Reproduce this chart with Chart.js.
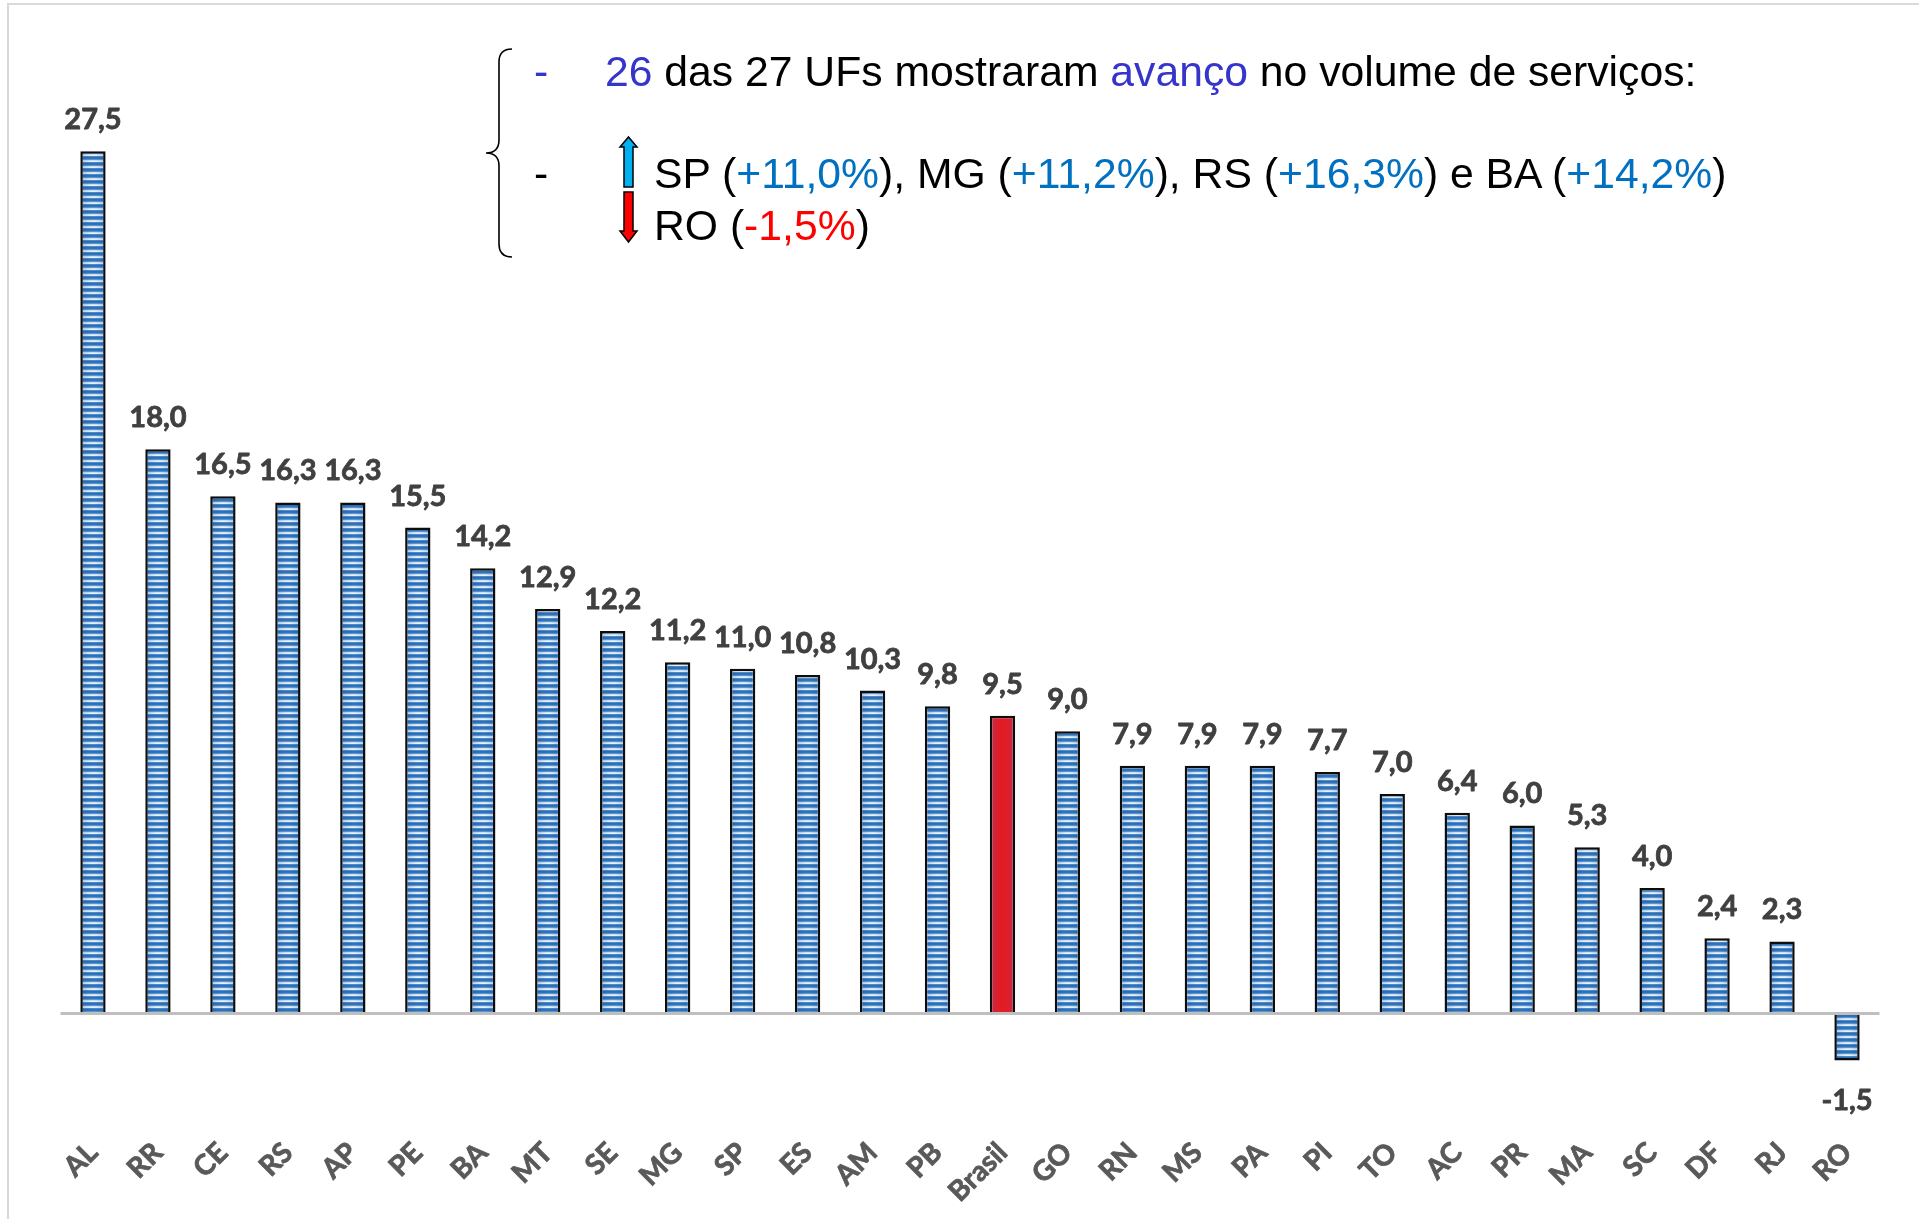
<!DOCTYPE html>
<html lang="pt-BR">
<head>
<meta charset="utf-8">
<title>Volume de serviços por UF</title>
<script src="https://cdn.jsdelivr.net/npm/chart.js@4.4.1/dist/chart.umd.min.js"></script>
<style>
  html, body { margin: 0; padding: 0; background: #ffffff; width: 1919px; height: 1219px; overflow: hidden; }
  #frame { position: absolute; left: 7px; top: 3px; right: 0; bottom: 0;
           border-left: 2px solid #d9d9d9; border-top: 2px solid #d9d9d9; }
  #wrap { position: absolute; left: 0; top: 0; width: 1919px; height: 1219px; }
  #marks { position: absolute; left: 0; top: 0; }
  .note { position: absolute; font-family: "Liberation Sans", Arial, sans-serif; font-size: 42.7px;
          line-height: 42px; white-space: nowrap; color: #000000; }
  .indigo { color: #3535cc; }
  .blue { color: #0070c0; }
  .red { color: #ff0000; }
</style>
</head>
<body>
<div id="frame"></div>
<div id="wrap"><canvas id="chart" width="1919" height="1219"></canvas></div>

<svg id="marks" width="1919" height="300" xmlns="http://www.w3.org/2000/svg">
  <!-- curly brace grouping the two notes -->
  <path d="M512,49 Q499,49 499,62 L499,140 Q499,153 486,153 Q499,153 499,166 L499,244 Q499,257 512,257"
        fill="none" stroke="#000" stroke-width="1.6"/>
  <!-- up / down arrows -->
  <polygon points="628.5,137 637,147 633,147 633,187 624,187 624,147 620,147"
           fill="#00b0f0" stroke="#000" stroke-width="1.5" stroke-linejoin="miter"/>
  <polygon points="624,192 633,192 633,231 637,231 628.5,242 620,231 624,231"
           fill="#ff0000" stroke="#000" stroke-width="1.5" stroke-linejoin="miter"/>
</svg>

<div class="note indigo" style="left:534px; top:50px;">-</div>
<div class="note" style="left:605px; top:50px;"><span class="indigo">26</span> das 27 UFs mostraram <span class="indigo">avanço</span> no volume de serviços:</div>
<div class="note" style="left:534px; top:152px;">-</div>
<div class="note" style="left:654px; top:152px;">SP (<span class="blue">+11,0%</span>), MG (<span class="blue">+11,2%</span>), RS (<span class="blue">+16,3%</span>) e BA (<span class="blue">+14,2%</span>)</div>
<div class="note" style="left:654px; top:204px;">RO (<span class="red">-1,5%</span>)</div>

<script>
// Variação do volume de serviços por unidade da federação (%)
const categories = ['AL', 'RR', 'CE', 'RS', 'AP', 'PE', 'BA', 'MT', 'SE', 'MG', 'SP', 'ES', 'AM', 'PB',
                    'Brasil', 'GO', 'RN', 'MS', 'PA', 'PI', 'TO', 'AC', 'PR', 'MA', 'SC', 'DF', 'RJ', 'RO'];
const variation = [27.5, 18.0, 16.5, 16.3, 16.3, 15.5, 14.2, 12.9, 12.2, 11.2, 11.0, 10.8, 10.3, 9.8,
                   9.5, 9.0, 7.9, 7.9, 7.9, 7.7, 7.0, 6.4, 6.0, 5.3, 4.0, 2.4, 2.3, -1.5];
const highlightCategory = 'Brasil';

const BAR_PCT = 0.39;
const LABEL_FONT = 'Lato, "Open Sans", sans-serif';

function hex(c) {
  return [parseInt(c.slice(1, 3), 16), parseInt(c.slice(3, 5), 16), parseInt(c.slice(5, 7), 16)];
}

// Horizontal stripe rows: [centre colour, edge colour]
const stripeRows = [
  ['#4f8bc9', '#3f7bbd'],
  ['#2e71b8', '#2766ab'],
  ['#3275bb', '#2a69ae'],
  ['#5d96cf', '#4a84c2'],
  ['#cfe1f4', '#8fb6e0'],
  ['#e9f2fb', '#a3c4e8']
];

function stripePattern(ctx, left, width) {
  const W = Math.max(2, Math.ceil(width));
  const H = stripeRows.length;
  const cv = document.createElement('canvas');
  cv.width = W; cv.height = H;
  const c2 = cv.getContext('2d');
  const img = c2.createImageData(W, H);
  for (let y = 0; y < H; y++) {
    const a = hex(stripeRows[y][0]), b = hex(stripeRows[y][1]);
    for (let x = 0; x < W; x++) {
      const t = Math.min(1, Math.abs((x + 0.5) - W / 2) / (W / 2));
      const k = Math.pow(t, 1.6);
      const o = (y * W + x) * 4;
      img.data[o] = a[0] + (b[0] - a[0]) * k;
      img.data[o + 1] = a[1] + (b[1] - a[1]) * k;
      img.data[o + 2] = a[2] + (b[2] - a[2]) * k;
      img.data[o + 3] = 255;
    }
  }
  c2.putImageData(img, 0, 0);
  const pat = ctx.createPattern(cv, 'repeat');
  if (pat.setTransform) pat.setTransform(new DOMMatrix().translate(left, 0));
  return pat;
}

function redFill(ctx, left, width) {
  const grad = ctx.createLinearGradient(left, 0, left + width, 0);
  grad.addColorStop(0, '#a8365f');
  grad.addColorStop(0.25, '#dd1f2c');
  grad.addColorStop(0.5, '#e31b24');
  grad.addColorStop(0.75, '#dd1f2c');
  grad.addColorStop(1, '#a8365f');
  return grad;
}

// Give each bar its own striped (or red) fill once its geometry is known
const barTexture = {
  id: 'barTexture',
  beforeDatasetsDraw(chart) {
    const meta = chart.getDatasetMeta(0);
    meta.data.forEach((bar, i) => {
      const left = bar.x - bar.width / 2;
      if (!isFinite(left) || !isFinite(bar.width)) return;
      bar.options.backgroundColor = categories[i] === highlightCategory
        ? redFill(chart.ctx, left, bar.width)
        : stripePattern(chart.ctx, left, bar.width);
    });
  }
};

const zeroLine = {
  id: 'zeroLine',
  afterDatasetsDraw(chart) {
    const { ctx, chartArea, scales } = chart;
    const y = scales.y.getPixelForValue(0);
    ctx.save();
    ctx.strokeStyle = '#bfbfbf';
    ctx.lineWidth = 3;
    ctx.beginPath();
    ctx.moveTo(chartArea.left, y);
    ctx.lineTo(chartArea.right, y);
    ctx.stroke();
    ctx.restore();
  }
};

const valueLabels = {
  id: 'valueLabels',
  afterDatasetsDraw(chart) {
    const { ctx } = chart;
    const meta = chart.getDatasetMeta(0);
    ctx.save();
    ctx.font = 'bold 29px ' + LABEL_FONT;
    ctx.fillStyle = '#404040';
    ctx.strokeStyle = '#404040';
    ctx.lineWidth = 0.8;
    ctx.lineJoin = 'round';
    ctx.textAlign = 'center';
    ctx.textBaseline = 'alphabetic';
    meta.data.forEach((bar, i) => {
      const v = variation[i];
      const txt = v.toFixed(1).replace('.', ',');
      const y = v >= 0 ? bar.y - 22 : bar.y + 49;
      ctx.fillText(txt, bar.x, y);
      ctx.strokeText(txt, bar.x, y);
    });
    ctx.restore();
  }
};

new Chart(document.getElementById('chart'), {
  type: 'bar',
  data: {
    labels: categories,
    datasets: [{
      data: variation,
      backgroundColor: () => '#3a7ec3',
      borderColor: '#0d0d0d',
      borderWidth: 2.5,
      barPercentage: BAR_PCT,
      categoryPercentage: 1
    }]
  },
  options: {
    responsive: false,
    animation: false,
    layout: { padding: { left: 60.5, right: 39.5, top: 73, bottom: 0 } },
    plugins: { legend: { display: false }, tooltip: { enabled: false } },
    scales: {
      x: {
        grid: { display: false },
        border: { display: false },
        ticks: {
          autoSkip: false,
          minRotation: 45,
          maxRotation: 45,
          padding: 3,
          color: '#595959',
          textStrokeColor: '#595959',
          textStrokeWidth: 0.8,
          font: { family: LABEL_FONT, weight: 'bold', size: 28 }
        },
        afterFit(axis) { axis.height = 94; }
      },
      y: { display: false, min: -3.557, max: 30 }
    }
  },
  plugins: [barTexture, zeroLine, valueLabels]
});
</script>
</body>
</html>
